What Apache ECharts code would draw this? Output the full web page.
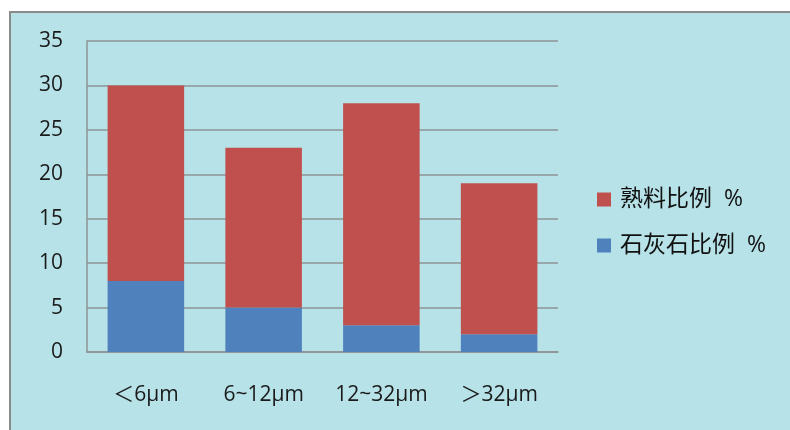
<!DOCTYPE html>
<html>
<head>
<meta charset="utf-8">
<script src="https://cdn.jsdelivr.net/npm/echarts@6/dist/echarts.min.js"></script>
<style>
  html, body { margin: 0; padding: 0; background: #ffffff; }
  #chart { width: 790px; height: 430px; }
</style>
</head>
<body>
<div id="chart"></div>
<script>
// Particle size classes
const categories = ['＜6μm', '6~12μm', '12~32μm', '＞32μm'];
// Limestone share (bottom segment), %
const limestone = [8, 5, 3, 2];
// Clinker share (top segment), %
const clinker = [22, 18, 25, 17];
const yTicks = [0, 5, 10, 15, 20, 25, 30, 35];

const fontFamily = '"Open Sans", "Noto Sans CJK SC", sans-serif';
const gridColor = '#8e9394';

const chart = echarts.init(document.getElementById('chart'));
chart.setOption({
  backgroundColor: '#ffffff',
  animation: false,
  graphic: [{
    type: 'rect',
    z: -10,
    silent: true,
    shape: { x: 10, y: 12, width: 800, height: 440 },
    style: { fill: '#b7e2e8', stroke: '#8a8a8a', lineWidth: 2 }
  }],
  grid: { left: 87, right: 232, top: 41, bottom: 78 },
  legend: {
    orient: 'vertical',
    left: 597,
    top: 188,
    padding: 0,
    itemWidth: 14,
    itemHeight: 14,
    itemGap: 23,
    icon: 'rect',
    data: ['熟料比例 %', '石灰石比例 %'],
    formatter: name => name.replace(' ', '  '),
    textStyle: {
      fontSize: 23, lineHeight: 23, color: '#111', fontFamily: fontFamily,
      padding: [0, 0, 0, 4]
    }
  },
  xAxis: {
    type: 'category',
    data: categories,
    axisLine: { show: true, lineStyle: { color: gridColor, width: 1.5 } },
    axisTick: { show: false },
    axisLabel: { interval: 0, margin: 33, fontSize: 21, color: '#1a1a1a', fontFamily: fontFamily }
  },
  yAxis: {
    type: 'value',
    min: 0,
    max: 35,
    interval: 5,
    axisLine: { show: true, lineStyle: { color: gridColor, width: 1.5 } },
    axisTick: { show: false },
    splitLine: { lineStyle: { color: gridColor, width: 1.5 } },
    axisLabel: {
      margin: 24, fontSize: 21, color: '#1a1a1a', fontFamily: fontFamily,
      formatter: v => (yTicks.includes(v) ? String(v) : '')
    }
  },
  series: [
    {
      name: '石灰石比例 %',
      type: 'bar',
      stack: 'total',
      data: limestone,
      barCategoryGap: '35%',
      itemStyle: { color: '#4f81bd' }
    },
    {
      name: '熟料比例 %',
      type: 'bar',
      stack: 'total',
      data: clinker,
      barCategoryGap: '35%',
      itemStyle: { color: '#c0504d' }
    }
  ]
});
</script>
</body>
</html>
